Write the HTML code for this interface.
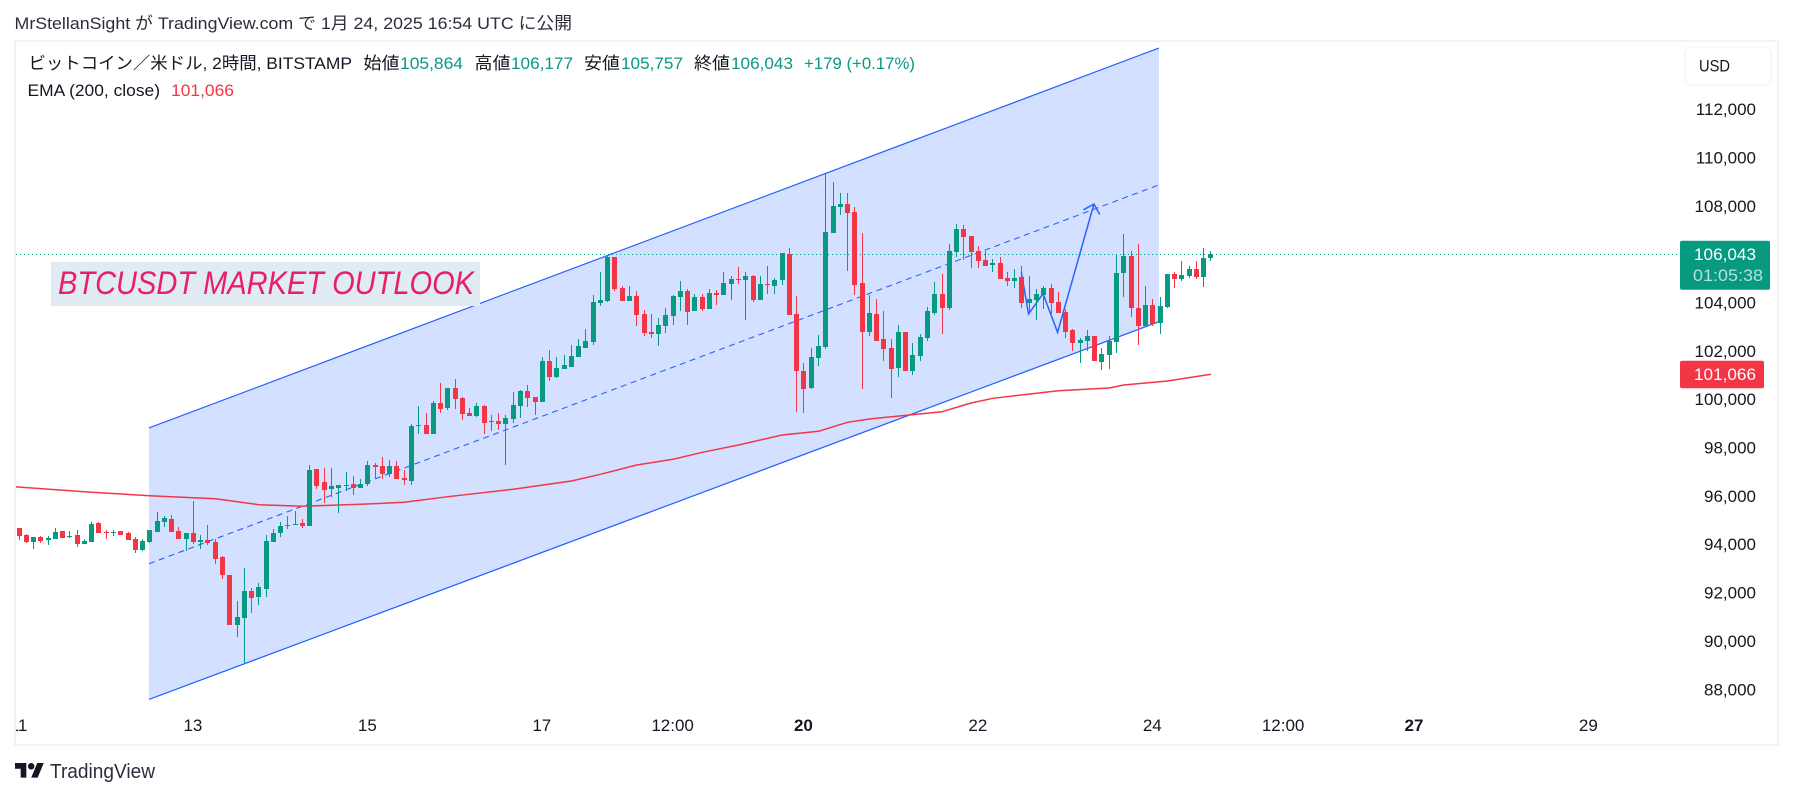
<!DOCTYPE html>
<html lang="ja">
<head>
<meta charset="utf-8">
<title>BTCUSDT 2h chart</title>
<style>
html,body{margin:0;padding:0;background:#fff;width:1793px;height:798px;overflow:hidden}
svg{display:block}
text{font-family:"Liberation Sans","Noto Sans CJK JP",sans-serif;font-size:17px;fill:#131722}
</style>
</head>
<body>
<svg id="chart" xmlns="http://www.w3.org/2000/svg" width="1793" height="798" viewBox="0 0 1793 798">
  <defs>
    <clipPath id="pane-clip"><rect x="16" y="42" width="1664" height="660"></rect></clipPath>
    <clipPath id="time-clip"><rect x="16" y="702" width="1664" height="42"></rect></clipPath>
  </defs>
  <rect x="0" y="0" width="1793" height="798" fill="#ffffff"></rect>
  <text x="14.5" y="29" textLength="557.5" lengthAdjust="spacingAndGlyphs" fill="#131722" style="fill:#2a2e39">MrStellanSight が TradingView.com で 1月 24, 2025 16:54 UTC に公開</text>
  <rect x="15" y="41" width="1763" height="704" fill="none" stroke="#f0f3fa" stroke-width="2"></rect>

  <g id="pane" clip-path="url(#pane-clip)">
    <polygon id="channel-fill" fill="#2962ff" fill-opacity="0.2"></polygon>
    <line id="last-price-line" x1="16" x2="1680" stroke="#089981" stroke-width="1" stroke-dasharray="1 3"></line>
    <line id="channel-top" stroke="#2962ff" stroke-width="1.2"></line>
    <line id="channel-mid" stroke="#2962ff" stroke-width="1.1" stroke-dasharray="6 4.5"></line>
    <line id="channel-bottom" stroke="#2962ff" stroke-width="1.2"></line>
    <polyline id="projection-path" fill="none" stroke="#2962ff" stroke-width="1.5" stroke-linejoin="miter"></polyline>
    <polyline id="projection-head" fill="none" stroke="#2962ff" stroke-width="1.5"></polyline>
    <polyline id="ema-line" fill="none" stroke="#f23645" stroke-width="1.5" stroke-linejoin="round"></polyline>
    <g id="candles" shape-rendering="crispEdges"></g>
  </g>

  <g>
    <text x="28.5" y="69" textLength="323.5" lengthAdjust="spacingAndGlyphs">ビットコイン／米ドル, 2時間, BITSTAMP</text>
    <text x="363.5" y="69" textLength="36" lengthAdjust="spacingAndGlyphs">始値</text>
    <text x="400" y="69" textLength="63" lengthAdjust="spacingAndGlyphs" style="fill:#089981">105,864</text>
    <text x="474.5" y="69" textLength="36" lengthAdjust="spacingAndGlyphs">高値</text>
    <text x="511" y="69" textLength="62" lengthAdjust="spacingAndGlyphs" style="fill:#089981">106,177</text>
    <text x="584" y="69" textLength="36" lengthAdjust="spacingAndGlyphs">安値</text>
    <text x="621" y="69" textLength="62" lengthAdjust="spacingAndGlyphs" style="fill:#089981">105,757</text>
    <text x="694" y="69" textLength="36" lengthAdjust="spacingAndGlyphs">終値</text>
    <text x="731" y="69" textLength="62" lengthAdjust="spacingAndGlyphs" style="fill:#089981">106,043</text>
    <text x="804" y="69" textLength="111" lengthAdjust="spacingAndGlyphs" style="fill:#089981">+179 (+0.17%)</text>
    <text x="27.5" y="96" textLength="132.5" lengthAdjust="spacingAndGlyphs">EMA (200, close)</text>
    <text x="171" y="96" textLength="63" lengthAdjust="spacingAndGlyphs" style="fill:#f23645">101,066</text>
  </g>

  <rect x="51" y="262" width="429" height="44" fill="#e1ebf3"></rect>
  <text x="58" y="294" textLength="416" lengthAdjust="spacingAndGlyphs" style="font-size:32px;font-style:italic;fill:#e91e63">BTCUSDT MARKET OUTLOOK</text>

  <g id="price-axis"></g>
  <g id="time-axis" clip-path="url(#time-clip)"></g>

  <rect x="1685" y="47" width="86.5" height="38" rx="6" fill="#ffffff" stroke="#f0f3fa" stroke-width="1.2"></rect>
  <text x="1699" y="71.5" textLength="31" lengthAdjust="spacingAndGlyphs">USD</text>

  <rect id="last-tag" x="1680" width="90" height="49" rx="2" fill="#089981"></rect>
  <text id="last-tag-text" x="1694" style="fill:#ffffff" textLength="62" lengthAdjust="spacingAndGlyphs">106,043</text>
  <text id="last-tag-timer" x="1693" style="fill:#ffffff;fill-opacity:0.7" textLength="70" lengthAdjust="spacingAndGlyphs">01:05:38</text>
  <rect id="ema-tag" x="1680" width="84" height="27.5" rx="2" fill="#f23645"></rect>
  <text id="ema-tag-text" x="1694" style="fill:#ffffff" textLength="62" lengthAdjust="spacingAndGlyphs">101,066</text>

  <g>
    <g transform="translate(15,759.8) scale(0.81)" fill="#131722">
      <path d="M14 22H7V11H0V4h14v18zM28 22h-8l7.5-18h8L28 22z"></path>
      <circle cx="20" cy="8" r="4"></circle>
    </g>
    <text x="50" y="778" textLength="105" lengthAdjust="spacingAndGlyphs" style="font-size:20px;fill:#2a2e39">TradingView</text>
  </g>
</svg>

<script>
// 2-hour BTC/USD candles, one entry per bar
const opens = [94705,94415,94125,94332,94208,94250,94581,94332,94415,94043,94125,94912,94539,94498,94581,94498,94250,93794,94125,94539,94953,95077,94581,94250,94498,94125,94208,94125,93505,92760,90692,90981,92098,91850,92181,94125,94498,94829,94829,94911,94787,97145,96607,96318,96359,96442,96525,96359,96525,97311,97269,96938,97269,96773,96649,98924,98965,98593,99876,99669,100496,100082,99462,99338,99751,99089,99131,99007,99214,99751,100372,100124,99917,101613,100952,101283,101365,101779,102151,102400,104013,104096,105916,104634,104096,104303,103558,102813,102731,103061,103475,104261,104509,103682,104261,103765,104427,104344,104799,105006,104964,105130,104137,104799,104716,104964,106040,103558,101200,100497,101738,102193,106909,107985,108109,107778,104840,102813,103558,102524,102151,101324,102813,101200,101820,102565,103599,104385,103806,106123,107074,106785,106164,105792,105585,105668,105047,104923,105089,104013,104137,104344,104634,104055,103641,102896,102358,102441,102648,101572,101862,102400,105254,105958,103806,103062,103930,103186,103848,105213,105006,105130,105420,105089,105864];
const highs = [94705,94456,94332,94374,94374,94705,94581,94581,94622,94250,94953,94953,94622,94622,94581,94539,94332,94250,94622,95367,95201,95242,94746,94498,95822,94415,94829,94250,93546,92760,91685,93050,92222,92429,94415,94663,94953,95201,95408,95077,97311,97145,97186,97186,96483,97021,96855,96731,97476,97393,97642,97517,97476,97104,99007,99751,99462,99958,100703,100496,100869,100124,99669,99876,99793,99379,99462,99379,100331,100413,100620,100124,101779,102069,101779,101862,102275,102524,102937,104344,105295,105999,105916,104716,104716,104509,103723,103558,103392,103806,104344,104923,104592,104385,104385,104592,104551,105295,105130,105502,105295,105171,105130,105544,105047,106082,106288,104303,101531,102151,102689,109350,109019,108564,108564,107985,106909,104344,104179,103682,102524,103103,102813,102358,102731,103848,104882,105213,106454,107281,107240,106785,106371,106164,105833,105916,105296,105420,105544,105130,104592,104716,104799,104468,103765,102938,102565,102896,102648,102152,102648,106040,106868,106164,106454,104716,104179,104261,105213,105296,105751,105544,105751,106289,106177];
const lows = [94208,94084,93836,94084,94001,94250,94291,94291,93919,94043,94125,94498,94250,94374,94415,94208,93670,93753,94084,94539,94746,94539,94250,93753,94043,93836,94001,93215,92595,90692,90195,89120,91188,91519,91850,94125,94332,94663,94829,94705,94787,96318,95738,95987,95325,96235,96069,96359,96442,96731,96731,96814,96731,96483,96483,98593,98593,98593,99462,99586,99627,99172,99338,99296,98593,98717,98758,97311,99048,99255,99710,99379,99917,100786,100910,101283,101365,101779,102151,102275,103889,104054,104509,104096,104096,103061,102648,102565,102234,102772,103103,103682,103103,103682,103682,103765,103930,104344,104137,104799,103310,104054,104137,104385,104385,104758,103517,99504,99462,100455,101407,102110,106909,107654,105337,104344,100455,102648,102441,101614,100083,100952,101200,101034,101614,102441,103517,102731,103723,105916,105792,105461,105461,105544,105296,105006,104716,104634,103806,103558,103310,103765,103558,103599,102565,102027,101531,102027,101614,101241,101283,101945,104261,103434,102276,103020,103062,102731,103806,104634,104923,105047,105006,104675,105757];
const closes = [94374,94125,94332,94167,94291,94539,94291,94374,94043,94167,94870,94498,94498,94539,94415,94208,93794,94167,94622,94994,95118,94539,94250,94498,94125,94208,94084,93422,92760,90692,91023,92098,91809,92264,94167,94498,94787,94787,94870,94787,97104,96442,96276,96442,96483,96483,96359,96525,97311,97228,96938,97269,96731,96690,98924,98965,98593,99876,99627,100496,100041,99420,99338,99751,99048,99131,99007,99255,99793,100372,100082,99917,101613,100952,101324,101448,101820,102234,102441,104054,104137,105916,104592,104096,104303,103517,102772,102731,103103,103517,104303,104509,103641,104261,103765,104427,104358,104840,105006,104964,105130,104137,104799,104758,104964,106082,103517,101200,100455,101779,102234,106950,108026,108109,107736,104758,102813,103599,102441,102110,101283,102813,101200,101862,102607,103682,104385,103806,106164,107074,106744,106123,105751,105544,105668,105006,104923,105047,104013,104179,104385,104634,104013,103599,102813,102358,102482,102648,101614,101903,102441,105254,105958,103806,103062,103930,103144,103889,105213,105006,105172,105420,105089,105875,106043];

// EMA 200 samples: bar number and value
const emaBars = [-1,10,18,27,33,39,47,53,59,68,76,80,85,90,94,99,105,110,114,117,127,131,134,143,150,152,158,164];
const emaValues = [96420,96182,96041,95917,95669,95607,95685,95768,96000,96306,96649,96926,97311,97547,97836,98138,98552,98705,99077,99214,99516,99876,100070,100385,100496,100621,100786,101066];

// Price axis
const priceTicks = [112000,110000,108000,104000,102000,100000,98000,96000,94000,92000,90000,88000];
const priceTickLabels = ['112,000','110,000','108,000','104,000','102,000','100,000','98,000','96,000','94,000','92,000','90,000','88,000'];

// Time axis
const timeTickBars = [0,24,48,72,90,108,132,156,174,192,216];
const timeTickLabels = ['11','13','15','17','12:00','20','22','24','12:00','27','29'];
const timeTickBold = ['20','27'];

// Drawings, anchored in bar / price
const channelBars = [17.88,156.85];
const channelUpper = [98842,114562];
const channelLower = [87610,103239];
const arrowBars = [137.9,138.9,140.9,142.9,147.9];
const arrowPrices = [105308,103558,104398,102801,108109];

function xScale(i){return 18.5+7.268*i;}
function yScale(p){return 400-(p-100000)/41.37;}
function fmt(n){return String(Math.round(n)).replace(/\B(?=(\d{3})+$)/g,',');}

const NS='http://www.w3.org/2000/svg';
const $=function(id){return document.getElementById(id);};

// channel
const cx0=xScale(channelBars[0])+0.5, cx1=xScale(channelBars[1])+0.5;
const ut0=yScale(channelUpper[0]), ut1=yScale(channelUpper[1]);
const lo0=yScale(channelLower[0]), lo1=yScale(channelLower[1]);
$('channel-fill').setAttribute('points',cx0+','+ut0+' '+cx1+','+ut1+' '+cx1+','+lo1+' '+cx0+','+lo0);
function setLine(el,a,b,c,d){el.setAttribute('x1',a);el.setAttribute('y1',b);el.setAttribute('x2',c);el.setAttribute('y2',d);}
setLine($('channel-top'),cx0,ut0,cx1,ut1);
setLine($('channel-bottom'),cx0,lo0,cx1,lo1);
setLine($('channel-mid'),cx0,(ut0+lo0)/2,cx1,(ut1+lo1)/2);

// last price line and tags
const lastClose=closes[closes.length-1];
const lastY=Math.round(yScale(lastClose));
$('last-price-line').setAttribute('y1',lastY+0.5);
$('last-price-line').setAttribute('y2',lastY+0.5);
$('last-tag').setAttribute('y',lastY-13.3);
$('last-tag-text').setAttribute('y',lastY+6);
$('last-tag-text').textContent=fmt(lastClose);
$('last-tag-timer').setAttribute('y',lastY+27);
const lastEma=emaValues[emaValues.length-1];
const emaY=yScale(lastEma);
$('ema-tag').setAttribute('y',emaY-13.5);
$('ema-tag-text').setAttribute('y',emaY+6);
$('ema-tag-text').textContent=fmt(lastEma);

// EMA
$('ema-line').setAttribute('points',emaBars.map(function(b,k){return (xScale(b)+0.5)+','+yScale(emaValues[k]);}).join(' '));

// projection arrow
const arrowPts=arrowBars.map(function(b,k){return [xScale(b)+0.5,yScale(arrowPrices[k])];});
$('projection-path').setAttribute('points',arrowPts.map(function(p){return p.join(',');}).join(' '));
const tip=arrowPts[arrowPts.length-1], prev=arrowPts[arrowPts.length-2];
const ang=Math.atan2(prev[1]-tip[1],prev[0]-tip[0]);
const hl=12, hs=Math.PI/4;
$('projection-head').setAttribute('points',
  (tip[0]+hl*Math.cos(ang+hs))+','+(tip[1]+hl*Math.sin(ang+hs))+' '+tip[0]+','+tip[1]+' '+(tip[0]+hl*Math.cos(ang-hs))+','+(tip[1]+hl*Math.sin(ang-hs)));

// candles
const candleLayer=$('candles');
opens.forEach(function(o,i){
  const c=closes[i];
  const color=c>=o?'#089981':'#f23645';
  const px=Math.round(xScale(i));
  const top=Math.round(yScale(Math.max(o,c)));
  const bot=Math.round(yScale(Math.min(o,c)));
  const hy=Math.round(yScale(highs[i]));
  const ly=Math.round(yScale(lows[i]));
  const wick=document.createElementNS(NS,'rect');
  
  
  wick.setAttribute('x',px);
  wick.setAttribute('y',hy);
  wick.setAttribute('width',1);
  wick.setAttribute('height',Math.max(1,ly-hy));
  wick.setAttribute('fill',color);
  candleLayer.appendChild(wick);
  const body=document.createElementNS(NS,'rect');
  
  
  body.setAttribute('x',px-2);
  body.setAttribute('y',top);
  body.setAttribute('width',5);
  body.setAttribute('height',Math.max(1,bot-top));
  body.setAttribute('fill',color);
  candleLayer.appendChild(body);
});

// price axis
const priceAxis=$('price-axis');
priceTicks.forEach(function(p,k){
  const t=document.createElementNS(NS,'text');
  
  
  t.setAttribute('x',1756);
  t.setAttribute('y',yScale(p)+5.2);
  t.setAttribute('text-anchor','end');
  t.textContent=priceTickLabels[k];
  priceAxis.appendChild(t);
});

// time axis
const timeAxis=$('time-axis');
timeTickBars.forEach(function(b,k){
  const t=document.createElementNS(NS,'text');
  
  
  t.setAttribute('x',xScale(b));
  t.setAttribute('y',731);
  t.setAttribute('text-anchor','middle');
  if(timeTickBold.indexOf(timeTickLabels[k])>=0){t.style.fontWeight='bold';}
  t.textContent=timeTickLabels[k];
  timeAxis.appendChild(t);
});
</script>
</body>
</html>
